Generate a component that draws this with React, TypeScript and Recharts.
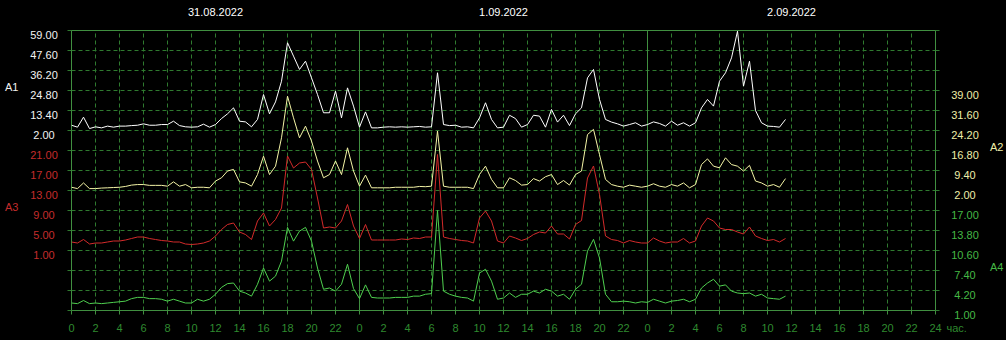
import { LineChart, Line, XAxis, YAxis, ReferenceLine } from 'recharts';

// half-hour samples starting 31.08.2022 00:00
const STEP_H = 0.5;

const A1 = [
  5.0, 3.9, 9.6, 3.1, 4.1, 3.5, 4.5, 3.9, 4.5, 4.5,
  4.8, 5.0, 5.8, 5.0, 5.0, 5.4, 5.4, 7.3, 4.8, 4.1,
  3.9, 4.1, 5.6, 3.9, 5.4, 8.8, 11.5, 14.9, 7.3, 6.9,
  4.1, 8.3, 22.5, 11.5, 18.3, 30.1, 52.0, 44.4, 36.8, 41.5,
  32.0, 22.5, 12.1, 12.1, 24.4, 9.2, 26.3, 15.9, 3.9, 12.6,
  3.5, 3.5, 3.9, 4.1, 3.9, 4.1, 3.9, 4.1, 4.3, 3.9,
  4.1, 34.9, 5.4, 4.8, 5.0, 3.9, 4.1, 3.5, 9.2, 17.8,
  8.3, 3.5, 3.9, 10.7, 8.8, 3.9, 5.4, 10.7, 10.2, 3.9,
  14.0, 6.8, 10.7, 4.8, 11.5, 14.9, 32.0, 36.8, 19.7, 8.3,
  6.8, 5.8, 4.5, 5.4, 6.4, 4.5, 5.4, 6.9, 6.0, 4.5,
  7.3, 5.0, 6.4, 4.5, 6.4, 14.9, 19.7, 15.9, 30.1, 34.9,
  43.4, 58.6, 27.3, 41.5, 13.4, 6.4, 4.5, 4.3, 3.9, 8.3,
];

const A2 = [
  3.2, 2.7, 4.8, 2.7, 2.7, 2.9, 3.0, 3.1, 3.2, 3.5,
  4.0, 4.2, 4.2, 3.9, 3.9, 3.9, 3.6, 5.2, 3.6, 4.2,
  3.0, 3.2, 3.2, 3.0, 5.5, 6.7, 9.2, 9.8, 5.2, 4.8,
  3.6, 7.9, 14.7, 7.9, 11.0, 21.5, 36.9, 28.9, 21.5, 25.8,
  20.3, 12.9, 6.7, 7.9, 12.9, 7.9, 17.8, 9.2, 3.6, 7.7,
  3.0, 3.0, 3.0, 3.0, 3.2, 3.2, 3.2, 3.2, 3.5, 3.4,
  3.6, 24.0, 3.6, 3.2, 3.2, 3.2, 3.2, 2.7, 7.9, 11.0,
  6.1, 3.0, 3.0, 6.7, 5.7, 4.0, 4.2, 6.4, 5.5, 7.1,
  7.9, 4.2, 5.7, 4.0, 7.9, 9.2, 22.7, 24.6, 15.3, 6.1,
  4.2, 3.6, 3.2, 4.0, 3.6, 3.2, 3.6, 4.5, 3.6, 3.2,
  4.2, 3.6, 4.8, 3.0, 4.2, 11.6, 13.7, 11.0, 10.4, 14.1,
  11.6, 11.0, 9.2, 11.3, 5.5, 4.8, 3.6, 4.2, 3.2, 6.4,
];

const A3 = [
  2.7, 2.5, 3.2, 2.3, 2.5, 2.5, 2.7, 2.9, 2.9, 3.1,
  3.4, 3.7, 3.7, 3.4, 3.2, 3.0, 2.9, 2.7, 2.7, 2.3,
  2.2, 2.3, 2.5, 2.9, 3.9, 5.2, 6.2, 6.5, 4.7, 4.2,
  3.2, 6.9, 8.5, 5.9, 7.2, 9.5, 19.9, 17.5, 18.5, 18.7,
  17.2, 11.5, 5.5, 5.7, 5.5, 6.9, 10.2, 5.9, 3.4, 6.2,
  3.1, 3.1, 3.1, 3.1, 3.1, 3.3, 3.2, 3.5, 3.4, 3.7,
  3.7, 20.2, 3.7, 3.4, 3.2, 3.0, 2.9, 2.5, 7.5, 8.9,
  6.9, 2.9, 2.5, 3.9, 3.5, 3.0, 3.4, 4.2, 4.7, 4.5,
  5.9, 4.3, 4.3, 3.3, 6.2, 7.0, 15.5, 17.9, 12.2, 3.9,
  3.2, 3.0, 2.5, 3.0, 2.7, 2.5, 2.5, 3.5, 2.9, 2.5,
  2.7, 2.7, 3.4, 2.5, 2.9, 5.9, 7.5, 6.9, 5.5, 5.2,
  5.2, 4.7, 4.3, 5.7, 3.9, 3.4, 3.0, 3.2, 2.7, 3.4,
];

const A4 = [
  2.2, 2.1, 2.6, 2.1, 2.2, 2.1, 2.2, 2.3, 2.4, 2.5,
  2.9, 3.1, 3.1, 2.9, 2.9, 2.8, 2.5, 2.8, 2.5, 2.2,
  2.2, 2.8, 2.5, 2.8, 3.6, 4.7, 5.3, 5.4, 4.1, 3.8,
  3.3, 5.2, 7.8, 5.7, 6.5, 8.9, 14.3, 12.1, 13.7, 14.3,
  12.1, 7.8, 4.4, 4.6, 4.1, 5.2, 8.4, 4.5, 2.9, 5.1,
  3.1, 3.0, 3.0, 3.0, 3.1, 3.1, 3.1, 3.3, 3.3, 3.6,
  3.7, 17.0, 4.1, 3.6, 3.3, 3.1, 3.0, 2.5, 7.0, 7.6,
  5.7, 2.8, 3.0, 3.8, 3.1, 3.6, 3.6, 4.1, 3.8, 4.4,
  4.1, 3.3, 3.6, 2.8, 4.4, 5.2, 10.5, 12.4, 9.4, 3.6,
  2.4, 2.4, 2.5, 2.4, 2.2, 2.4, 2.3, 2.8, 2.5, 2.2,
  2.5, 2.6, 2.8, 2.4, 2.8, 4.6, 5.4, 6.0, 4.9, 5.1,
  4.1, 3.8, 3.7, 3.8, 3.3, 3.6, 3.0, 2.9, 2.8, 3.3,
];

const A1_TICKS = [2, 13.4, 24.8, 36.2, 47.6, 59];
const A2_TICKS = [2, 9.4, 16.8, 24.2, 31.6, 39];
const A3_TICKS = [1, 5, 9, 13, 17, 21];
const A4_TICKS = [1, 4.2, 7.4, 10.6, 13.8, 17];

const DATES = ['31.08.2022', '1.09.2022', '2.09.2022'];
const DATE_TICKS = [12, 36, 60];
const DAY_LINES = [0, 24, 48, 72];
const HOUR_TICKS = [
  0, 2, 4, 6, 8, 10, 12, 14, 16, 18, 20, 22, 24, 26, 28, 30, 32, 34, 36,
  38, 40, 42, 44, 46, 48, 50, 52, 54, 56, 58, 60, 62, 64, 66, 68, 70, 72,
];
const GRID_ROWS = [0, 1, 2, 3, 4, 5, 6, 7, 8, 9, 10, 11, 12, 13, 14];

const W = 1006;
const H = 340;
const PLOT_LEFT = 71.5;
const PLOT_RIGHT = 935.5;
const AXIS_W = 1; // y axes are drawn by their tick components, they only need a sliver
const FONT = '"Liberation Sans", Arial, sans-serif';

const GRID_COLOR = '#2f7a2f';
const FRAME_COLOR = '#408f40';
const C1 = '#ffffff';
const C2 = '#f4f4a6';
const C3 = '#d22a2a';
const C4 = '#4fcf4f';
const C1_TEXT = '#f2f2f2';
const C2_TEXT = '#eeeea8';
const C3_TEXT = '#c42c2c';
const C4_TEXT = '#45b845';
const X_TEXT = '#2f8a2f';

// axis spans: ticks fill 5 of the 14 grid rows, the rest is empty room
const span = (ticks: number[], below: number, above: number): [number, number] => {
  const step = ticks[1] - ticks[0];
  return [ticks[0] - below * step, ticks[ticks.length - 1] + above * step];
};

const data = A1.map((v, i) => ({
  h: i * STEP_H,
  a1: v,
  a2: A2[i],
  a3: A3[i],
  a4: A4[i],
}));

const valueTick = (labelX: number, color: string) => (props: any) => {
  const { y, payload } = props;
  return (
    <text
      x={labelX}
      y={y + 8}
      textAnchor="middle"
      fill={color}
      fontSize={11}
      fontFamily={FONT}
    >
      {Number(payload.value).toFixed(2)}
    </text>
  );
};

const GridStub = (props: any) => {
  const { y } = props;
  return (
    <g>
      <line x1={PLOT_LEFT - 4} x2={PLOT_LEFT} y1={y} y2={y} stroke={GRID_COLOR} />
      <line
        x1={PLOT_RIGHT}
        x2={PLOT_RIGHT + 6}
        y1={y}
        y2={y}
        stroke={GRID_COLOR}
        strokeDasharray="4 3"
      />
    </g>
  );
};

const HourTick = (props: any) => {
  const { x, y, payload } = props;
  const v = payload.value as number;
  const last = v === 72;
  return (
    <g fill={X_TEXT} fontSize={11} fontFamily={FONT}>
      <text x={x} y={y + 15} textAnchor="middle">
        {last ? '24' : v % 24}
      </text>
      {last && (
        <text x={x + 11} y={y + 15}>
          час.
        </text>
      )}
    </g>
  );
};

const DateTick = (props: any) => {
  const { x, index } = props;
  return (
    <text x={x} y={16} textAnchor="middle" fill="#ffffff" fontSize={11} fontFamily={FONT}>
      {DATES[index]}
    </text>
  );
};

export default function App() {
  return (
    <div style={{ position: 'absolute', left: 0, top: 0, width: W, height: H, background: '#000' }}>
      <LineChart
        width={W}
        height={H}
        data={data}
        margin={{
          top: 0,
          right: W - PLOT_RIGHT - 2 * AXIS_W,
          bottom: 0,
          left: PLOT_LEFT - 3 * AXIS_W,
        }}
      >
        <XAxis
          xAxisId="bottom"
          dataKey="h"
          type="number"
          domain={[0, 72]}
          allowDataOverflow
          ticks={HOUR_TICKS}
          interval={0}
          height={29.5}
          stroke={FRAME_COLOR}
          tickSize={4}
          tick={<HourTick />}
        />
        <XAxis
          xAxisId="top"
          orientation="top"
          dataKey="h"
          type="number"
          domain={[0, 72]}
          allowDataOverflow
          ticks={DATE_TICKS}
          interval={0}
          height={30.5}
          stroke={FRAME_COLOR}
          tickLine={false}
          tick={<DateTick />}
        />
        <YAxis
          yAxisId="grid"
          type="number"
          domain={[0, 14]}
          allowDataOverflow
          ticks={GRID_ROWS}
          interval={0}
          width={AXIS_W}
          axisLine={false}
          tickLine={false}
          tick={<GridStub />}
        />
        <YAxis
          yAxisId="a1"
          type="number"
          domain={span(A1_TICKS, 9, 0)}
          allowDataOverflow
          ticks={A1_TICKS}
          interval={0}
          width={AXIS_W}
          axisLine={false}
          tickLine={false}
          tick={valueTick(44, C1_TEXT)}
        />
        <YAxis
          yAxisId="a3"
          type="number"
          domain={span(A3_TICKS, 3, 6)}
          allowDataOverflow
          ticks={A3_TICKS}
          interval={0}
          width={AXIS_W}
          axisLine={false}
          tickLine={false}
          tick={valueTick(44, C3_TEXT)}
        />
        <YAxis
          yAxisId="a2"
          orientation="right"
          type="number"
          domain={span(A2_TICKS, 6, 3)}
          allowDataOverflow
          ticks={A2_TICKS}
          interval={0}
          width={AXIS_W}
          axisLine={false}
          tickLine={false}
          tick={valueTick(965, C2_TEXT)}
        />
        <YAxis
          yAxisId="a4"
          orientation="right"
          type="number"
          domain={span(A4_TICKS, 0, 9)}
          allowDataOverflow
          ticks={A4_TICKS}
          interval={0}
          width={AXIS_W}
          axisLine={false}
          tickLine={false}
          tick={valueTick(965, C4_TEXT)}
        />
        {GRID_ROWS.map((r) => (
          <ReferenceLine
            key={`r${r}`}
            y={r}
            xAxisId="bottom"
            yAxisId="grid"
            stroke={GRID_COLOR}
            strokeDasharray="4 3"
          />
        ))}
        {HOUR_TICKS.map((t) => (
          <ReferenceLine
            key={`c${t}`}
            x={t}
            xAxisId="bottom"
            yAxisId="grid"
            stroke={GRID_COLOR}
            strokeDasharray="4 3"
          />
        ))}
        {DAY_LINES.map((d) => (
          <ReferenceLine key={`d${d}`} x={d} xAxisId="bottom" yAxisId="grid" stroke={FRAME_COLOR} />
        ))}
        <ReferenceLine y={0} xAxisId="bottom" yAxisId="grid" stroke={FRAME_COLOR} />
        <ReferenceLine y={14} xAxisId="bottom" yAxisId="grid" stroke={FRAME_COLOR} />
        <Line xAxisId="bottom" yAxisId="a1" dataKey="a1" type="linear" stroke={C1} strokeWidth={1} dot={false} isAnimationActive={false} />
        <Line xAxisId="bottom" yAxisId="a2" dataKey="a2" type="linear" stroke={C2} strokeWidth={1} dot={false} isAnimationActive={false} />
        <Line xAxisId="bottom" yAxisId="a3" dataKey="a3" type="linear" stroke={C3} strokeWidth={1} dot={false} isAnimationActive={false} />
        <Line xAxisId="bottom" yAxisId="a4" dataKey="a4" type="linear" stroke={C4} strokeWidth={1} dot={false} isAnimationActive={false} />
        <text x={5} y={91} fill={C1_TEXT} fontSize={11} fontFamily={FONT}>A1</text>
        <text x={5} y={211} fill={C3_TEXT} fontSize={11} fontFamily={FONT}>A3</text>
        <text x={990} y={151} fill={C2_TEXT} fontSize={11} fontFamily={FONT}>A2</text>
        <text x={990} y={271} fill={C4_TEXT} fontSize={11} fontFamily={FONT}>A4</text>
      </LineChart>
    </div>
  );
}
